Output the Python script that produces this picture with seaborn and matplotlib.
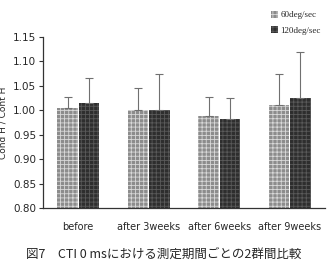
import numpy as np
import pandas as pd
import matplotlib
matplotlib.use("Agg")
import matplotlib.pyplot as plt
import seaborn as sns
from matplotlib.patches import Patch

categories = ["before", "after 3weeks", "after 6weeks", "after 9weeks"]
series = ["60deg/sec", "120deg/sec"]
mean_60 = [1.004, 1.001, 0.989, 1.011]
mean_120 = [1.014, 1.001, 0.983, 1.025]
sd_60 = [0.024, 0.044, 0.039, 0.064]
sd_120 = [0.053, 0.074, 0.043, 0.095]
yticks = [0.80, 0.85, 0.90, 0.95, 1.00, 1.05, 1.10, 1.15]

sns.set_theme(style="white")
plt.rcParams["font.family"] = ["DejaVu Sans", "Noto Sans CJK JP"]
plt.rcParams["hatch.linewidth"] = 0.6

df = pd.DataFrame({
    "period": categories * 2,
    "speed": [series[0]] * 4 + [series[1]] * 4,
    "value": mean_60 + mean_120,
    "sd": sd_60 + sd_120,
})

fig = plt.figure(figsize=(3.28, 2.61), dpi=100)
ax = fig.add_axes([0.131, 0.203, 0.86, 0.655])

palette = {series[0]: "#8c8c8c", series[1]: "#2e2e2e"}
sns.barplot(data=df, x="period", y="value", hue="speed", palette=palette,
            errorbar=None, width=0.6, gap=0.03, ax=ax, legend=False,
            linewidth=0, saturation=1)

hatch_cols = {series[0]: "#d8d8d8", series[1]: "#5a5a5a"}
for container, s in zip(ax.containers, series):
    sub = df[df["speed"] == s]
    xs = []
    for bar in container:
        bar.set_hatch("++++")
        bar.set_edgecolor(hatch_cols[s])
        bar.set_linewidth(0)
        xs.append(bar.get_x() + bar.get_width() / 2)
    ax.errorbar(xs, sub["value"].values,
                yerr=[np.zeros(len(xs)), sub["sd"].values],
                fmt="none", ecolor="#707070", elinewidth=0.8,
                capsize=3, capthick=0.8)

ax.set_ylim(0.80, 1.15)
ax.set_xlim(-0.5, 3.5)
ax.set_yticks(yticks)
ax.set_yticklabels([f"{t:.2f}" for t in yticks], fontsize=7.5)
ax.tick_params(axis="y", length=3, width=0.8, pad=2, left=True, color="#333")
ax.tick_params(axis="x", length=0, labelsize=7, pad=10)
ax.set_xlabel("")
ax.set_ylabel("Cond H / Cont H", fontsize=6.5)
ax.yaxis.set_label_coords(-0.125, 0.5)
for sp in ["top", "right"]:
    ax.spines[sp].set_visible(False)
for sp in ["left", "bottom"]:
    ax.spines[sp].set_color("#333")
    ax.spines[sp].set_linewidth(0.9)

handles = [Patch(facecolor=palette[s], edgecolor=hatch_cols[s], hatch="++++",
                 linewidth=0) for s in series]
leg = fig.legend(handles, series, loc="upper left", bbox_to_anchor=(0.8, 0.99),
                 frameon=False, handlelength=0.8, handleheight=0.8,
                 handletextpad=0.3, labelspacing=0.75,
                 prop={"family": "Liberation Serif", "size": 6.5})

fig.text(0.5, 0.027, "図7　CTI 0 msにおける測定期間ごとの2群間比較",
         ha="center", va="center", fontsize=9,
         family=["Noto Sans CJK JP", "DejaVu Sans"])

fig.savefig("out.png", dpi=100)
